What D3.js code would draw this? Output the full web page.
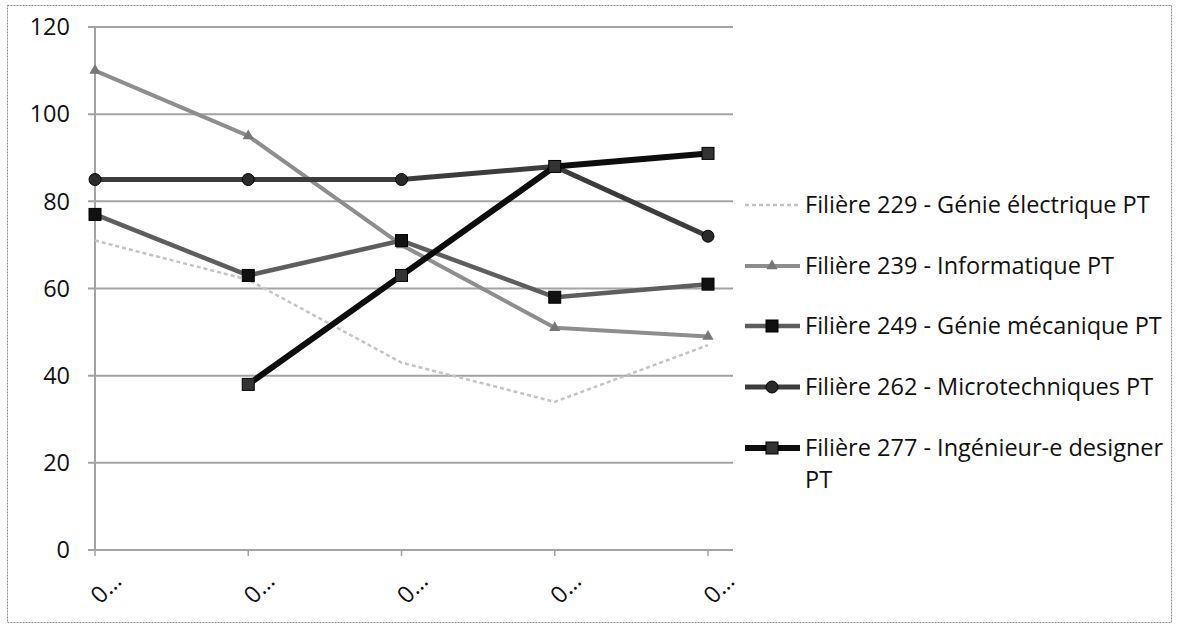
<!doctype html>
<html>
<head>
<meta charset="utf-8">
<title>Filières PT</title>
<style>
  body { margin: 0; background: #fff; }
  svg { display: block; font-family: "Open Sans", "Noto Sans", sans-serif; }
</style>
</head>
<body>
<svg></svg>
<script src="https://cdnjs.cloudflare.com/ajax/libs/d3/7.8.5/d3.min.js"></script>
<script>
// categories (labels are truncated in the original chart)
var categories = ["c1", "c2", "c3", "c4", "c5"];
var catLabels = ["0…", "0…", "0…", "0…", "0…"];
var yTicks = [0, 20, 40, 60, 80, 100, 120];

var seriesNames = [
  "Filière 229 - Génie électrique PT",
  "Filière 239 - Informatique PT",
  "Filière 249 - Génie mécanique PT",
  "Filière 262 - Microtechniques PT",
  "Filière 277 - Ingénieur-e designer PT"
];
var s229 = [71, 62, 43, 34, 47];
var s239 = [110, 95, 70, 51, 49];
var s249 = [77, 63, 71, 58, 61];
var s262 = [85, 85, 85, 88, 72];
var s277 = [null, 38, 63, 88, 91];

var styles = [
  { color: "#c4c4c4", width: 2.5, dash: "4,3", marker: null },
  { color: "#8e8e8e", width: 4, dash: null, marker: "triangle", mfill: "#777" },
  { color: "#5e5e5e", width: 4.5, dash: null, marker: "square", mfill: "#111" },
  { color: "#3c3c3c", width: 5, dash: null, marker: "circle", mfill: "#2a2a2a" },
  { color: "#0d0d0d", width: 6, dash: null, marker: "square", mfill: "#333" }
];

var allSeries = [s229, s239, s249, s262, s277];

var W = 1177, H = 630;
var fontSize = 23.5;
var svg = d3.select("svg").attr("width", W).attr("height", H);

// outer border
svg.append("rect")
  .attr("x", 7.5).attr("y", 5.5)
  .attr("width", 1164).attr("height", 617)
  .attr("fill", "none")
  .attr("stroke", "#8a8a8a")
  .attr("stroke-dasharray", "2,1");

var x = d3.scalePoint().domain(categories).range([95, 708]);
var y = d3.scaleLinear().domain([0, 120]).range([550, 27]);
var gridRight = 733, gridLeft = 88;

// gridlines
svg.append("g").selectAll("line")
  .data(yTicks)
  .enter().append("line")
  .attr("x1", gridLeft).attr("x2", gridRight)
  .attr("y1", function(d) { return y(d); })
  .attr("y2", function(d) { return y(d); })
  .attr("stroke", "#a3a3a3")
  .attr("stroke-width", 2);

// y axis line
svg.append("line")
  .attr("x1", 95).attr("x2", 95)
  .attr("y1", y(120)).attr("y2", y(0))
  .attr("stroke", "#a3a3a3")
  .attr("stroke-width", 2);

// y tick labels
svg.append("g").selectAll("text")
  .data(yTicks)
  .enter().append("text")
  .attr("x", 70)
  .attr("y", function(d) { return y(d); })
  .attr("dy", "0.35em")
  .attr("text-anchor", "end")
  .attr("font-size", fontSize)
  .attr("fill", "#111")
  .text(function(d) { return d; });

// x ticks
svg.append("g").selectAll("line")
  .data(categories)
  .enter().append("line")
  .attr("x1", function(d) { return x(d); })
  .attr("x2", function(d) { return x(d); })
  .attr("y1", y(0)).attr("y2", y(0) + 6)
  .attr("stroke", "#a3a3a3")
  .attr("stroke-width", 1.5);

// x tick labels, rotated
svg.append("g").selectAll("text")
  .data(categories)
  .enter().append("text")
  .attr("transform", function(d) { return "translate(" + (x(d) + 11) + "," + 588 + ") rotate(-45)"; })
  .attr("text-anchor", "middle")
  .attr("dy", "0.35em")
  .attr("font-size", fontSize)
  .attr("fill", "#111")
  .text(function(d, i) { return catLabels[i]; });

function drawMarker(g, type, cx, cy, st) {
  if (type === "square") {
    g.append("rect")
      .attr("x", cx - 6).attr("y", cy - 6)
      .attr("width", 12).attr("height", 12)
      .attr("fill", st.mfill).attr("stroke", "#000").attr("stroke-width", 1);
  } else if (type === "circle") {
    g.append("circle")
      .attr("cx", cx).attr("cy", cy).attr("r", 6)
      .attr("fill", st.mfill).attr("stroke", "#000").attr("stroke-width", 1);
  } else if (type === "triangle") {
    g.append("path")
      .attr("d", d3.symbol().type(d3.symbolTriangle).size(55)())
      .attr("transform", "translate(" + cx + "," + cy + ")")
      .attr("fill", st.mfill);
  }
}

var line = d3.line()
  .defined(function(d) { return d != null; })
  .x(function(d, i) { return x(categories[i]); })
  .y(function(d) { return y(d); });

var plot = svg.append("g");
allSeries.forEach(function(vals, si) {
  var st = styles[si];
  var g = plot.append("g");
  g.append("path")
    .datum(vals)
    .attr("d", line)
    .attr("fill", "none")
    .attr("stroke", st.color)
    .attr("stroke-width", st.width)
    .attr("stroke-dasharray", st.dash)
    .attr("stroke-linejoin", "round");
  if (st.marker) {
    vals.forEach(function(v, i) {
      if (v == null) return;
      drawMarker(g, st.marker, x(categories[i]), y(v), st);
    });
  }
});

// legend
var legendY = [205, 266, 326, 387, 448];
var legend = svg.append("g");
var maxW = 366;
seriesNames.forEach(function(name, si) {
  var st = styles[si];
  var ly = legendY[si];
  legend.append("line")
    .attr("x1", 745).attr("x2", 800)
    .attr("y1", ly).attr("y2", ly)
    .attr("stroke", st.color)
    .attr("stroke-width", st.width)
    .attr("stroke-dasharray", st.dash);
  if (st.marker) drawMarker(legend, st.marker, 772, ly, st);

  var t = legend.append("text")
    .attr("x", 805).attr("y", ly)
    .attr("dy", "0.35em")
    .attr("font-size", fontSize)
    .attr("fill", "#111");
  // simple word wrap
  var words = name.split(" "), lineWords = [];
  var ts = t.append("tspan").attr("x", 805);
  words.forEach(function(w) {
    lineWords.push(w);
    ts.text(lineWords.join(" "));
    if (ts.node().getComputedTextLength() > maxW && lineWords.length > 1) {
      lineWords.pop();
      ts.text(lineWords.join(" "));
      lineWords = [w];
      ts = t.append("tspan").attr("x", 805).attr("dy", "1.35em").text(w);
    }
  });
});
</script>
</body>
</html>
